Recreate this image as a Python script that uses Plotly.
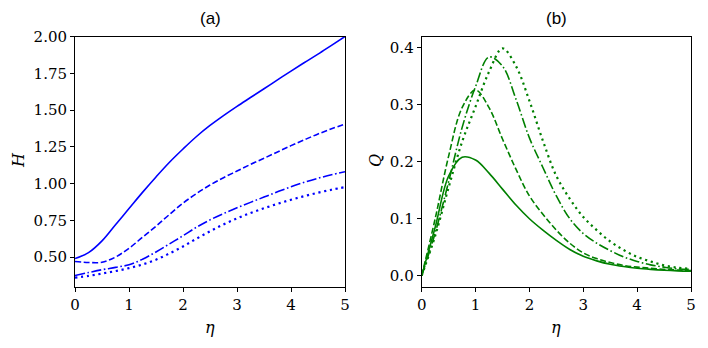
import plotly.graph_objects as go

# eta grid shared by both panels
eta = [0, 0.25, 0.5, 0.75, 1, 1.25, 1.5, 1.75, 2, 2.25, 2.5, 2.75, 3, 3.25, 3.5, 3.75, 4, 4.25, 4.5, 4.75, 5]

# panel (a): H
h_solid = [0.49, 0.53, 0.61, 0.72, 0.83, 0.94, 1.045, 1.145, 1.235, 1.32, 1.395, 1.462, 1.525, 1.585, 1.645,
           1.705, 1.765, 1.823, 1.88, 1.94, 2.0]
h_dash = [0.47, 0.463, 0.465, 0.50, 0.56, 0.635, 0.71, 0.79, 0.867, 0.932, 0.99, 1.04, 1.085, 1.13, 1.172,
          1.215, 1.258, 1.298, 1.337, 1.372, 1.405]
h_dashdot = [0.375, 0.395, 0.414, 0.43, 0.448, 0.485, 0.535, 0.59, 0.645, 0.703, 0.753, 0.796, 0.835, 0.872,
             0.908, 0.944, 0.978, 1.009, 1.036, 1.06, 1.08]
h_dot = [0.36, 0.372, 0.388, 0.405, 0.425, 0.45, 0.482, 0.525, 0.572, 0.625, 0.675, 0.722, 0.763, 0.80, 0.832,
         0.862, 0.89, 0.915, 0.938, 0.958, 0.976]

# panel (b): Q
q_solid = [0, 0.085, 0.175, 0.208, 0.203, 0.18, 0.152, 0.124, 0.10, 0.08, 0.062, 0.046, 0.034, 0.026, 0.020,
           0.016, 0.013, 0.011, 0.0095, 0.0085, 0.008]
q_dash = [0, 0.10, 0.21, 0.295, 0.326, 0.295, 0.24, 0.187, 0.14, 0.108, 0.08, 0.057, 0.04, 0.03, 0.023,
          0.018, 0.015, 0.013, 0.011, 0.01, 0.009]
q_dashdot = [0, 0.075, 0.165, 0.26, 0.332, 0.384, 0.368, 0.31, 0.242, 0.19, 0.14, 0.10, 0.074, 0.057, 0.044,
             0.033, 0.025, 0.019, 0.015, 0.012, 0.011]
q_dot = [0, 0.07, 0.155, 0.235, 0.297, 0.358, 0.399, 0.368, 0.307, 0.237, 0.175, 0.135, 0.103, 0.08, 0.06,
         0.045, 0.033, 0.025, 0.018, 0.014, 0.012]

# page body has an 8px margin, so the figure is drawn 8px in from the top-left
OFF = 8
W, Hpx = 708 - OFF, 348 - OFF


def px(x):
    return (x - OFF) / W


def py(y):
    return (348 - y) / Hpx


styles = [
    dict(width=1.6, dash='solid'),
    dict(width=1.6, dash='6px,2.6px'),
    dict(width=1.6, dash='10px,2.6px,1.6px,2.6px'),
    dict(width=2.2, dash='2.2px,3.7px'),
]

fig = go.Figure()
for ys, st in zip([h_solid, h_dash, h_dashdot, h_dot], styles):
    fig.add_trace(go.Scatter(x=eta, y=ys, mode='lines',
                             line=dict(color='#0000ff', shape='spline', smoothing=1, **st),
                             xaxis='x', yaxis='y', showlegend=False))
for ys, st in zip([q_solid, q_dash, q_dashdot, q_dot], styles):
    fig.add_trace(go.Scatter(x=eta, y=ys, mode='lines',
                             line=dict(color='green', shape='spline', smoothing=1, **st),
                             xaxis='x2', yaxis='y2', showlegend=False))

tickfont = dict(family='DejaVu Serif', size=15, color='black')
ax = dict(showline=True, mirror=True, linecolor='black', linewidth=1, ticks='outside', ticklen=4,
          tickcolor='black', tickwidth=1, showgrid=False, zeroline=False, tickfont=tickfont,
          automargin=False)
ydom = [py(286.5), py(36.5)]

fig.update_layout(
    width=W, height=Hpx, margin=dict(l=0, r=0, t=0, b=0),
    plot_bgcolor='white', paper_bgcolor='white',
    xaxis=dict(ax, domain=[px(75), px(345)], range=[0, 5], tickvals=[0, 1, 2, 3, 4, 5]),
    yaxis=dict(ax, domain=ydom, range=[0.30, 2.0], tickvals=[0.5, 0.75, 1.0, 1.25, 1.5, 1.75, 2.0],
               tickformat='.2f'),
    xaxis2=dict(ax, domain=[px(421.7), px(691)], range=[0, 5], tickvals=[0, 1, 2, 3, 4, 5], anchor='y2'),
    yaxis2=dict(ax, domain=ydom, range=[-0.019, 0.42], tickvals=[0, 0.1, 0.2, 0.3, 0.4],
                tickformat='.1f', anchor='x2'),
)

labfont = dict(family='DejaVu Serif', size=16, color='black')
titfont = dict(family='Liberation Sans', size=17, color='black')
ann = [
    dict(text='(a)', x=px(210), y=py(18), font=titfont),
    dict(text='(b)', x=px(556), y=py(18), font=titfont),
    dict(text='<i>η</i>', x=px(210), y=py(327), font=labfont),
    dict(text='<i>η</i>', x=px(556), y=py(327), font=labfont),
    dict(text='<i>H</i>', x=px(18), y=py(160), font=labfont, textangle=-90),
    dict(text='<i>Q</i>', x=px(375), y=py(160), font=labfont, textangle=-90),
]
for a in ann:
    fig.add_annotation(xref='paper', yref='paper', showarrow=False, xanchor='center', yanchor='middle', **a)

fig.write_html("out.html")
